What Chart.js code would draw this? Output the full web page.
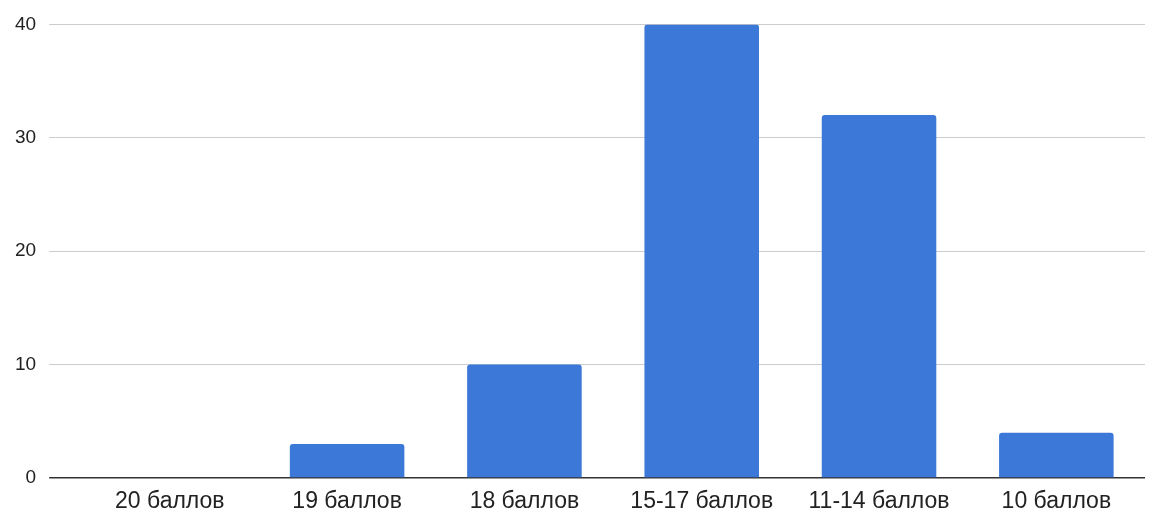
<!DOCTYPE html>
<html>
<head>
<meta charset="utf-8">
<script src="https://cdn.jsdelivr.net/npm/chart.js@4"></script>
<style>
html,body{margin:0;padding:0;background:#fff;}
#wrap{width:1159px;height:509px;}
</style>
</head>
<body>
<div id="wrap"><canvas id="c" width="1159" height="509"></canvas></div>
<script>
const categories = ['20 баллов', '19 баллов', '18 баллов', '15-17 баллов', '11-14 баллов', '10 баллов'];
const values = [0, 3, 10, 40, 32, 4];
const yTicks = [0, 10, 20, 30, 40];

const gridCol = ctx => (ctx.tick && ctx.tick.value === 0) ? '#333333' : '#cccccc';

new Chart(document.getElementById('c'), {
  type: 'bar',
  data: {
    labels: categories,
    datasets: [{
      data: values,
      backgroundColor: '#3c78d8',
      borderRadius: {topLeft: 3, topRight: 3, bottomLeft: 0, bottomRight: 0},
      borderSkipped: 'bottom',
      barPercentage: 0.646,
      categoryPercentage: 1.0
    }]
  },
  options: {
    responsive: false,
    devicePixelRatio: 1,
    animation: false,
    layout: {padding: {top: 14, right: 14, bottom: -16, left: 2}},
    plugins: {legend: {display: false}, tooltip: {enabled: false}},
    scales: {
      x: {
        grid: {display: false, drawTicks: false},
        border: {display: false},
        ticks: {color: '#222', font: {family: 'Liberation Sans', size: 23, lineHeight: 1.0}, padding: 12, maxRotation: 0}
      },
      y: {
        min: 0, max: 40,
        afterBuildTicks: s => { s.ticks = yTicks.map(v => ({value: v})); },
        grid: {color: gridCol, tickColor: gridCol, lineWidth: ctx => (ctx.tick && ctx.tick.value === 0) ? 1.5 : 1, drawTicks: true, tickLength: 32},
        border: {display: false},
        ticks: {color: '#222', font: {family: 'Liberation Sans', size: 19}, padding: 13}
      }
    }
  }
});
</script>
</body>
</html>
